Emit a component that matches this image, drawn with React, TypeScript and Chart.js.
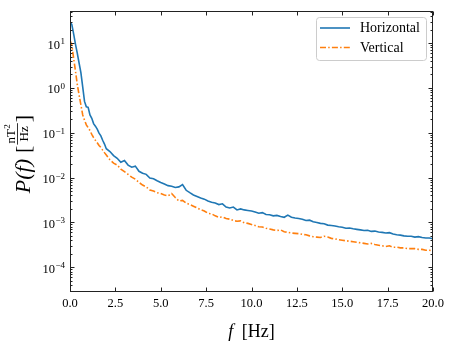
import React, { useEffect, useRef } from 'react';
import { Chart, registerables } from 'chart.js';

Chart.register(...registerables);

const FREQ = [
  0.0, 0.1, 0.2, 0.3, 0.4, 0.5, 0.6, 0.7, 0.8, 0.9,
  1.0, 1.1, 1.2, 1.3, 1.4, 1.5, 1.6, 1.7, 1.8, 1.9,
  2.0, 2.2, 2.4, 2.6, 2.8, 3.0, 3.2, 3.4, 3.6, 3.8,
  4.0, 4.2, 4.4, 4.6, 4.8, 5.0, 5.2, 5.4, 5.6, 5.8,
  6.0, 6.2, 6.4, 6.6, 6.8, 7.0, 7.2, 7.4, 7.6, 7.8,
  8.0, 8.2, 8.4, 8.6, 8.8, 9.0, 9.2, 9.4, 9.6, 9.8,
  10.0, 10.2, 10.4, 10.6, 10.8, 11.0, 11.2, 11.4, 11.6, 11.8,
  12.0, 12.2, 12.4, 12.6, 12.8, 13.0, 13.2, 13.4, 13.6, 13.8,
  14.0, 14.2, 14.4, 14.6, 14.8, 15.0, 15.2, 15.4, 15.6, 15.8,
  16.0, 16.2, 16.4, 16.6, 16.8, 17.0, 17.2, 17.4, 17.6, 17.8,
  18.0, 18.2, 18.4, 18.6, 18.8, 19.0, 19.2, 19.4, 19.6, 19.8,
  20.0,
];

const HORIZONTAL = [
  30, 26, 16, 9.5, 6.0, 3.6, 2.2, 1.05, 0.5, 0.38,
  0.37, 0.25, 0.21, 0.16, 0.14, 0.12, 0.098, 0.085, 0.068, 0.056,
  0.044, 0.038, 0.031, 0.027, 0.022, 0.024, 0.019, 0.017, 0.018, 0.0138,
  0.0125, 0.0118, 0.0098, 0.0094, 0.0085, 0.0078, 0.0072, 0.0066, 0.0064, 0.006,
  0.0062, 0.007, 0.0052, 0.0046, 0.0041, 0.0038, 0.0035, 0.0033, 0.003, 0.0028,
  0.0027, 0.0025, 0.0026, 0.0022, 0.0021, 0.0022, 0.0019, 0.002, 0.0019, 0.00185,
  0.0018, 0.0017, 0.0016, 0.00165, 0.0015, 0.00148, 0.0014, 0.00143, 0.00135, 0.0013,
  0.00145, 0.0013, 0.00125, 0.00122, 0.00118, 0.0011, 0.00112, 0.00103, 0.00099, 0.00095,
  0.00093, 0.00087, 0.00085, 0.00083, 0.0008, 0.00078, 0.00074, 0.00075, 0.00072, 0.0007,
  0.00068, 0.00066, 0.00067, 0.00063, 0.00064, 0.00061, 0.0006, 0.00058, 0.00059, 0.00055,
  0.00053, 0.00052, 0.0005, 0.00049, 0.00049, 0.00047, 0.00048, 0.00046, 0.00045, 0.00045,
  0.00043,
];

const VERTICAL = [
  11.5, 9.0, 4.6, 2.4, 1.2, 0.7, 0.42, 0.25, 0.19, 0.15,
  0.13, 0.112, 0.092, 0.078, 0.068, 0.06, 0.052, 0.047, 0.041, 0.036,
  0.032, 0.025, 0.021, 0.019, 0.0155, 0.0135, 0.0118, 0.0102, 0.0092, 0.0078,
  0.0068, 0.0062, 0.0053, 0.005, 0.0046, 0.0044, 0.0041, 0.0039, 0.0044, 0.0036,
  0.003, 0.0031, 0.0027, 0.0025, 0.0023, 0.0021, 0.00192, 0.0018, 0.0016, 0.00155,
  0.0014, 0.0013, 0.00132, 0.00122, 0.00118, 0.0011, 0.00106, 0.00108, 0.00098, 0.00095,
  0.0009, 0.00085, 0.0008, 0.00079, 0.00074, 0.00071, 0.00068, 0.00066, 0.00068, 0.00062,
  0.0006, 0.00058, 0.00057, 0.00056, 0.00054, 0.00053, 0.0005, 0.00048, 0.00047, 0.00046,
  0.00049, 0.00047, 0.00044, 0.00043, 0.00041, 0.0004, 0.00039, 0.00038, 0.00037, 0.00036,
  0.00035, 0.00034, 0.00033, 0.00034, 0.00032, 0.00031, 0.0003, 0.00029, 0.0003, 0.00028,
  0.00028, 0.00027, 0.00027, 0.00026, 0.00026, 0.00026, 0.00025, 0.00025, 0.00024, 0.00024,
  0.00023,
];

const SERIES_LABELS = ['Horizontal', 'Vertical'];
const SERIES_COLORS = ['#1f77b4', '#ff7f0e'];
const X_TICKS = [0, 2.5, 5, 7.5, 10, 12.5, 15, 17.5, 20];
const Y_DECADES = [-4, -3, -2, -1, 0, 1];
const X_MIN = 0;
const X_MAX = 20;
const Y_MIN = 2.8e-5;
const Y_MAX = 52;

const SERIF = '"Liberation Serif", "DejaVu Serif", serif';
const DASHDOT = [6, 2.2, 1.5, 2.2];

const decorPlugin = {
  id: 'decor',
  afterDraw(chart: any) {
    const { ctx, chartArea: a, scales } = chart;
    const xs = scales.x;
    const ys = scales.y;
    const L = Math.round(a.left) + 0.5;
    const R = Math.round(a.right) - 0.5;
    const T = Math.round(a.top) + 0.5;
    const B = Math.round(a.bottom) - 0.5;
    ctx.save();
    ctx.strokeStyle = '#222';
    ctx.lineWidth = 1;
    ctx.setLineDash([]);
    ctx.strokeRect(L, T, R - L, B - T);

    ctx.beginPath();
    X_TICKS.forEach((v) => {
      const px = Math.round(xs.getPixelForValue(v)) + 0.5;
      ctx.moveTo(px, B);
      ctx.lineTo(px, B - 4);
      ctx.moveTo(px, T);
      ctx.lineTo(px, T + 4);
    });
    Y_DECADES.forEach((d) => {
      const py = Math.round(ys.getPixelForValue(Math.pow(10, d))) + 0.5;
      ctx.moveTo(L, py);
      ctx.lineTo(L + 4, py);
      ctx.moveTo(R, py);
      ctx.lineTo(R - 4, py);
    });
    for (let d = -5; d <= 1; d++) {
      for (let m = 2; m <= 9; m++) {
        const v = m * Math.pow(10, d);
        if (v < Y_MIN || v > Y_MAX) continue;
        const py = Math.round(ys.getPixelForValue(v)) + 0.5;
        ctx.moveTo(L, py);
        ctx.lineTo(L + 2, py);
        ctx.moveTo(R, py);
        ctx.lineTo(R - 2, py);
      }
    }
    ctx.stroke();

    ctx.fillStyle = '#000';
    ctx.font = '12.5px ' + SERIF;
    ctx.textAlign = 'center';
    ctx.textBaseline = 'alphabetic';
    X_TICKS.forEach((v) => {
      const px = xs.getPixelForValue(v);
      ctx.fillText(v.toFixed(1), px, 307);
    });

    Y_DECADES.forEach((d) => {
      const py = ys.getPixelForValue(Math.pow(10, d));
      const exp = d < 0 ? '\u2212' + Math.abs(d) : String(d);
      ctx.font = '9px ' + SERIF;
      ctx.textAlign = 'right';
      const we = ctx.measureText(exp).width;
      ctx.fillText(exp, 65, py + 1);
      ctx.font = '12.5px ' + SERIF;
      ctx.fillText('10', 65 - we - 0.5, py + 5.5);
    });

    // x axis title
    ctx.font = 'italic 18px ' + SERIF;
    const fW = ctx.measureText('f').width;
    ctx.font = '18px ' + SERIF;
    const restW = ctx.measureText(' [Hz]').width + 4;
    const cx = (a.left + a.right) / 2;
    const sx = cx - (fW + restW) / 2;
    ctx.textAlign = 'left';
    ctx.font = 'italic 18px ' + SERIF;
    ctx.fillText('f', sx, 337);
    ctx.font = '18px ' + SERIF;
    ctx.fillText(' [Hz]', sx + fW + 4, 337);

    // y axis title (rotated)
    ctx.save();
    ctx.translate(22, 154);
    ctx.rotate(-Math.PI / 2);
    ctx.textAlign = 'left';
    ctx.font = 'italic 22px ' + SERIF;
    const pW = ctx.measureText('P(f)').width;
    ctx.font = '22px ' + SERIF;
    const brW = ctx.measureText('[').width;
    const spW = 6;
    ctx.font = '13px ' + SERIF;
    const numW = ctx.measureText('nT').width + 5;
    const denW = ctx.measureText('Hz').width;
    const fracW = Math.max(numW, denW) + 2;
    const total = pW + spW + brW * 2 + fracW + 2;
    let x0 = -total / 2;
    ctx.font = 'italic 22px ' + SERIF;
    ctx.fillText('P(f)', x0, 8);
    x0 += pW + spW;
    ctx.font = '22px ' + SERIF;
    ctx.fillText('[', x0, 8);
    x0 += brW + 1;
    const ncx = x0 + fracW / 2;
    ctx.font = '13px ' + SERIF;
    ctx.textAlign = 'center';
    ctx.fillText('nT', ncx - 2.5, -7);
    ctx.font = '9px ' + SERIF;
    ctx.textAlign = 'left';
    ctx.fillText('2', ncx - 2.5 + (numW - 5) / 2 + 0.5, -12);
    ctx.font = '13px ' + SERIF;
    ctx.textAlign = 'center';
    ctx.fillText('Hz', ncx, 6);
    ctx.fillRect(x0, -5, fracW, 0.8);
    x0 += fracW + 1;
    ctx.textAlign = 'left';
    ctx.font = '22px ' + SERIF;
    ctx.fillText(']', x0, 8);
    ctx.restore();

    // legend
    const lx = 316.5;
    const ly = 17.5;
    const lw = 110;
    const lh = 43;
    ctx.beginPath();
    if (ctx.roundRect) ctx.roundRect(lx, ly, lw, lh, 3);
    else ctx.rect(lx, ly, lw, lh);
    ctx.fillStyle = 'rgba(255,255,255,0.8)';
    ctx.fill();
    ctx.strokeStyle = '#cccccc';
    ctx.lineWidth = 1;
    ctx.stroke();
    chart.data.datasets.forEach((ds: any, i: number) => {
      const yy = 28 + i * 19.5;
      ctx.beginPath();
      ctx.strokeStyle = ds.borderColor;
      ctx.lineWidth = 1.6;
      ctx.setLineDash(ds.borderDash || []);
      ctx.moveTo(320, yy);
      ctx.lineTo(350, yy);
      ctx.stroke();
      ctx.setLineDash([]);
      ctx.fillStyle = '#000';
      ctx.font = '14px ' + SERIF;
      ctx.textAlign = 'left';
      ctx.textBaseline = 'middle';
      ctx.fillText(ds.label, 360, yy + 0.5);
    });
    ctx.restore();
  },
};

export default function App() {
  const ref = useRef<HTMLCanvasElement | null>(null);
  useEffect(() => {
    if (!ref.current) return;
    const chart = new Chart(ref.current, {
      type: 'line',
      data: {
        datasets: [
          {
            label: SERIES_LABELS[0],
            data: FREQ.map((f, i) => ({ x: f, y: HORIZONTAL[i] })),
            borderColor: SERIES_COLORS[0],
            backgroundColor: SERIES_COLORS[0],
            borderWidth: 1.6,
            pointRadius: 0,
            tension: 0,
            fill: false,
          },
          {
            label: SERIES_LABELS[1],
            data: FREQ.map((f, i) => ({ x: f, y: VERTICAL[i] })),
            borderColor: SERIES_COLORS[1],
            backgroundColor: SERIES_COLORS[1],
            borderWidth: 1.6,
            borderDash: DASHDOT,
            pointRadius: 0,
            tension: 0,
            fill: false,
          },
        ],
      },
      options: {
        responsive: false,
        animation: false,
        events: [],
        layout: { padding: { left: 0, right: 24, top: 11, bottom: 0 } },
        plugins: {
          legend: { display: false },
          tooltip: { enabled: false },
        },
        scales: {
          x: {
            type: 'linear',
            min: X_MIN,
            max: X_MAX,
            grid: { display: false },
            border: { display: false },
            ticks: { display: false },
            afterFit: (s: any) => {
              s.height = 51;
            },
          },
          y: {
            type: 'logarithmic',
            min: Y_MIN,
            max: Y_MAX,
            grid: { display: false },
            border: { display: false },
            ticks: { display: false },
            afterFit: (s: any) => {
              s.width = 70;
            },
          },
        },
      },
      plugins: [decorPlugin],
    });
    return () => chart.destroy();
  }, []);
  return (
    <div style={{ position: 'absolute', left: 0, top: 0, width: 457, height: 343, background: '#fff' }}>
      <canvas ref={ref} width={457} height={343} style={{ display: 'block', width: 457, height: 343 }} />
    </div>
  );
}
